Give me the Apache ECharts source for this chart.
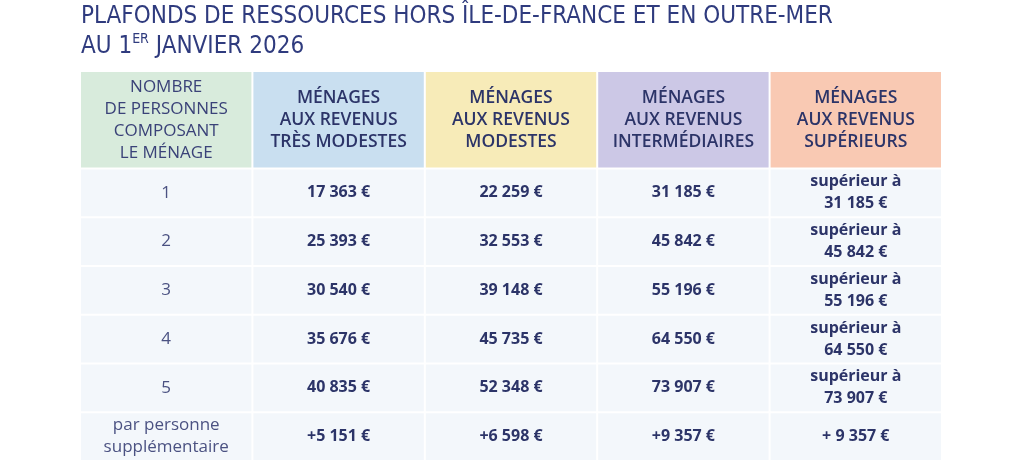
<!DOCTYPE html>
<html>
<head>
<meta charset="utf-8">
<script src="https://cdn.jsdelivr.net/npm/echarts@6/dist/echarts.min.js"></script>
<style>
  html, body { margin: 0; padding: 0; background: #fff; }
  #chart { width: 1024px; height: 474px; }
</style>
</head>
<body>
<div id="chart"></div>
<script>
// column headers
const headers = [
    'NOMBRE\nDE PERSONNES\nCOMPOSANT\nLE MÉNAGE',
    'MÉNAGES\nAUX REVENUS\nTRÈS MODESTES',
    'MÉNAGES\nAUX REVENUS\nMODESTES',
    'MÉNAGES\nAUX REVENUS\nINTERMÉDIAIRES',
    'MÉNAGES\nAUX REVENUS\nSUPÉRIEURS'
];
const households = ['1', '2', '3', '4', '5', 'par personne\nsupplémentaire'];

// plafonds (€), last value = par personne supplémentaire
const tresModestes = [17363, 25393, 30540, 35676, 40835, 5151];
const modestes = [22259, 32553, 39148, 45735, 52348, 6598];
const intermediaires = [31185, 45842, 55196, 64550, 73907, 9357];

const headerColors = ['#d8ebdc', '#c9dff0', '#f7ebb8', '#ccc8e6', '#f9c9b3'];
const bodyColor = '#f3f7fb';
const ink = '#2c3468';

const fmt = v => String(v).replace(/\B(?=(\d{3})+(?!\d))/g, ' ') + ' €';

// cells: [col, row, rowSpan, text, kind]
const cells = [];
headers.forEach((h, c) => cells.push([c, 0, 2, h, c === 0 ? 'head0' : 'head']));
households.forEach((h, i) => {
    const row = i + 2;
    const extra = i === households.length - 1;
    cells.push([0, row, 1, h, 'first']);
    cells.push([1, row, 1, (extra ? '+' : '') + fmt(tresModestes[i]), 'value']);
    cells.push([2, row, 1, (extra ? '+' : '') + fmt(modestes[i]), 'value']);
    cells.push([3, row, 1, (extra ? '+' : '') + fmt(intermediaires[i]), 'value']);
    cells.push([4, row, 1, extra ? '+ ' + fmt(intermediaires[i]) : 'supérieur à\n' + fmt(intermediaires[i]), 'value']);
});

const textStyles = {
    head0: { font: '400 17px "Open Sans", sans-serif', lineHeight: 22, fill: '#3a4278' },
    head: { font: '600 17.5px "Open Sans", sans-serif', lineHeight: 22, fill: ink },
    first: { font: '400 17px "Open Sans", sans-serif', lineHeight: 22, fill: '#4b5282' },
    value: { font: '700 16px "Open Sans", sans-serif', lineHeight: 22, fill: ink }
};

const chart = echarts.init(document.getElementById('chart'), null, { renderer: 'canvas' });
chart.setOption({
    animation: false,
    backgroundColor: '#fff',
    title: {
        text: 'PLAFONDS DE RESSOURCES HORS ÎLE-DE-FRANCE ET EN OUTRE-MER\nAU 1{sup|ER} JANVIER 2026',
        left: 76,
        top: -3,
        textStyle: {
            fontFamily: '"DejaVu Sans Condensed", "Liberation Sans Narrow", sans-serif',
            fontSize: 24,
            fontWeight: 400,
            color: '#2f3b7e',
            lineHeight: 30,
            rich: {
                sup: { fontSize: 14, verticalAlign: 'top', lineHeight: 24, color: '#2f3b7e', fontFamily: '"DejaVu Sans Condensed", sans-serif' }
            }
        }
    },
    grid: { left: 80, right: 82, top: 71, bottom: 13 },
    xAxis: { type: 'value', min: 0, max: 5, show: false },
    yAxis: { type: 'value', min: 0, max: 8, inverse: true, show: false },
    series: [{
        type: 'custom',
        coordinateSystem: 'cartesian2d',
        encode: { x: 0, y: 1 },
        data: cells,
        renderItem(params, api) {
            const col = api.value(0), row = api.value(1), span = api.value(2);
            const item = cells[params.dataIndex];
            const a = api.coord([col, row]);
            const b = api.coord([col + 1, row + span]);
            const x = a[0] + 1, y = a[1] + 1, w = b[0] - a[0] - 2, h = b[1] - a[1] - 2;
            const fill = row < 2 ? headerColors[col] : bodyColor;
            return {
                type: 'group',
                children: [
                    { type: 'rect', shape: { x, y, width: w, height: h }, style: { fill } },
                    {
                        type: 'text',
                        x: x + w / 2,
                        y: y + h / 2,
                        style: { text: item[3], align: 'center', verticalAlign: 'middle', ...textStyles[item[4]] }
                    }
                ]
            };
        }
    }]
});
</script>
</body>
</html>
